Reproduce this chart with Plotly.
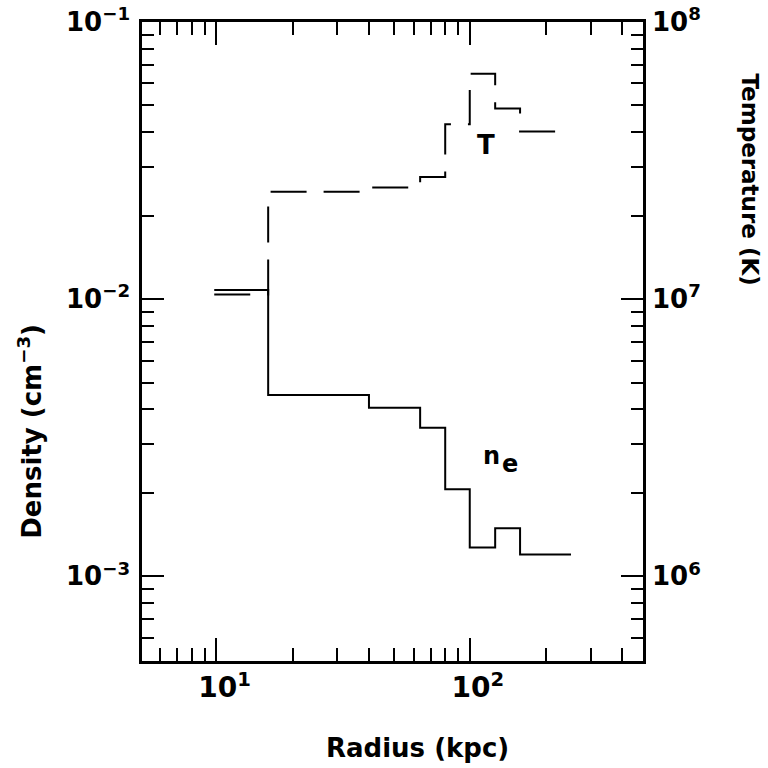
import numpy as np
import plotly.graph_objects as go

# ---- data ----
radius_edges = [9.8, 16, 40, 63.7, 80, 100, 126, 158, 251]          # kpc, bin edges
density = [1.08e-2, 4.51e-3, 4.06e-3, 3.44e-3, 2.06e-3, 1.27e-3, 1.49e-3, 1.20e-3]   # cm^-3
temperature = [1.04e7, 2.44e7, 2.53e7, 2.76e7, 4.28e7, 6.5e7, 4.87e7, 4.03e7]       # K

x_ticks = [10, 100]
x_ticktext = ["10<sup>1</sup>", "10<sup>2</sup>"]
x_minor = [6, 7, 8, 9, 20, 30, 40, 50, 60, 70, 80, 90, 200, 300, 400]
d_ticks = [1e-3, 1e-2, 1e-1]
d_ticktext = ["10<sup>−3</sup>", "10<sup>−2</sup>", "10<sup>−1</sup>"]
d_minor = [6e-4, 7e-4, 8e-4, 9e-4] + [k * 1e-3 for k in range(2, 10)] + [k * 1e-2 for k in range(2, 10)]
t_ticks = [1e6, 1e7, 1e8]
t_ticktext = ["10<sup>6</sup>", "10<sup>7</sup>", "10<sup>8</sup>"]

FONT = "DejaVu Sans"

def steps(edges, vals):
    return list(edges), list(vals) + [vals[-1]]

dx, dy = steps(radius_edges, density)
tx, ty = steps(radius_edges, temperature)

fig = go.Figure()
fig.add_trace(go.Scatter(x=dx, y=dy, mode="lines", line=dict(shape="hv", color="black", width=2),
                         yaxis="y", showlegend=False))
fig.add_trace(go.Scatter(x=tx, y=ty, mode="lines",
                         line=dict(shape="hv", color="black", width=2, dash="36px,17px"),
                         yaxis="y2", showlegend=False))

fig.update_layout(
    width=768, height=768, autosize=False,
    margin=dict(l=142, r=125, t=22, b=107),
    paper_bgcolor="white", plot_bgcolor="white",
    font=dict(family=FONT, color="black"),
    xaxis=dict(type="log", range=[0.706, 2.684], showgrid=False, zeroline=False, automargin=False,
               showline=True, linecolor="black", linewidth=2.5, mirror="ticks",
               ticks="inside", ticklen=23, tickwidth=2, tickcolor="black",
               tickvals=x_ticks, ticktext=x_ticktext,
               tickfont=dict(family=FONT, size=28, color="black", weight="bold"),
               ticklabelstandoff=0, ticklabelshift=8,
               minor=dict(tickvals=x_minor, ticks="inside", ticklen=13, tickwidth=2,
                          tickcolor="black", showgrid=False)),
    yaxis=dict(type="log", range=[np.log10(4.95e-4), -1], showgrid=False, zeroline=False,
               automargin=False,
               showline=True, linecolor="black", linewidth=2.5, mirror="ticks",
               ticks="inside", ticklen=22, tickwidth=2, tickcolor="black",
               tickvals=d_ticks, ticktext=d_ticktext,
               tickfont=dict(family=FONT, size=26, color="black", weight="bold"),
               ticklabelstandoff=4,
               minor=dict(tickvals=d_minor, ticks="inside", ticklen=12, tickwidth=2,
                          tickcolor="black", showgrid=False)),
    yaxis2=dict(type="log", range=[np.log10(4.95e5), 8], overlaying="y", side="right",
                showgrid=False, zeroline=False, showline=False, ticks="", automargin=False,
                tickvals=t_ticks, ticktext=t_ticktext,
                tickfont=dict(family=FONT, size=26, color="black", weight="bold"),
                ticklabelstandoff=8),
)

annots = [
    dict(text="<b>Radius (kpc)</b>", x=0.55, y=-0.136, xref="paper", yref="paper",
         showarrow=False, font=dict(size=26), xanchor="center", yanchor="middle"),
    dict(text="<b>Density (cm<sup>−3</sup>)</b>", x=-0.224, y=0.36, xref="paper", yref="paper",
         showarrow=False, font=dict(size=26), textangle=-90, xanchor="center", yanchor="middle"),
    dict(text="<b>Temperature (K)</b>", x=1.213, y=0.754, xref="paper", yref="paper",
         showarrow=False, font=dict(size=23), textangle=90, xanchor="center", yanchor="middle"),
    dict(text="<b>T</b>", x=2.066, y=-1.443, xref="x", yref="y", showarrow=False,
         font=dict(size=26), xanchor="center", yanchor="middle"),
    dict(text="<b>n</b>", x=2.085, y=-2.567, xref="x", yref="y", showarrow=False,
         font=dict(size=24), xanchor="center", yanchor="middle"),
    dict(text="<b>e</b>", x=2.160, y=-2.593, xref="x", yref="y", showarrow=False,
         font=dict(size=24), xanchor="center", yanchor="middle"),
]
fig.update_layout(annotations=annots)

fig.write_html("out.html")
